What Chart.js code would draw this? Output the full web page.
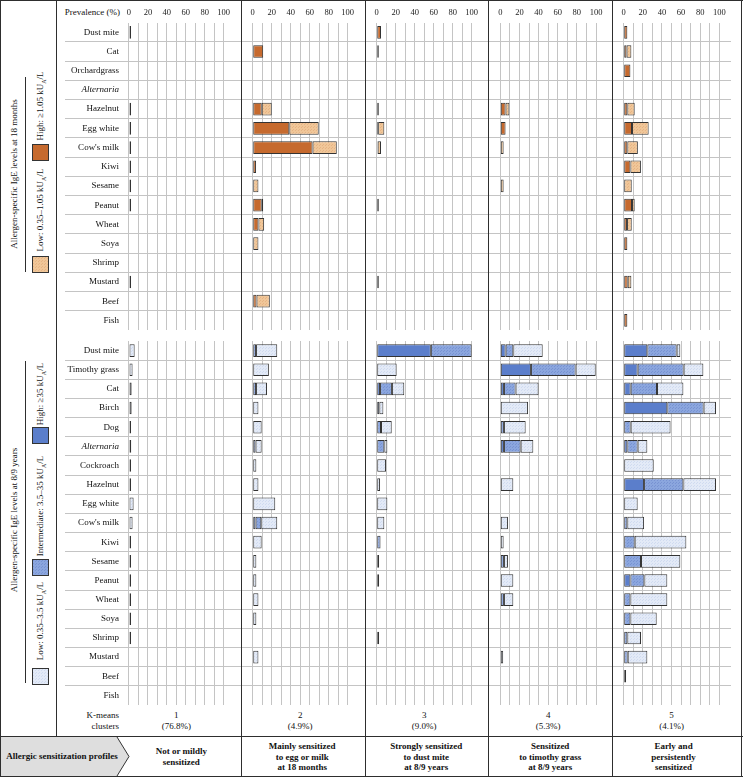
<!DOCTYPE html>
<html>
<head>
<meta charset="utf-8">
<script src="https://cdn.jsdelivr.net/npm/chart.js@4.4.0/dist/chart.umd.min.js"></script>
<style>
  body { margin: 0; background: #fff; }
  #fig { position: relative; width: 743px; height: 778px; overflow: hidden;
         font-family: "Liberation Serif", "DejaVu Serif", serif; color: #111; }
  #fig canvas { position: absolute; }
  .ln { position: absolute; background: #2e2e2e; }
  .t { position: absolute; font-size: 9px; line-height: 10.7px; white-space: nowrap; }
  .c { transform: translateX(-50%); text-align: center; }
  .b { font-weight: bold; }
  .rot { position: absolute; font-size: 9px; white-space: nowrap;
         transform: translate(-50%, -50%) rotate(-90deg); }
  .rot sub { font-size: 6px; line-height: 0; }
  .sw { position: absolute; width: 15px; height: 15px; border: 1px solid #333; }
</style>
</head>
<body>
<div id="fig">
  <div class="ln" style="left:0;top:0;width:743px;height:1px"></div>
  <div class="ln" style="left:0;top:776px;width:743px;height:1px"></div>
  <div class="ln" style="left:0;top:0;width:1px;height:777px"></div>
  <div class="ln" style="left:741px;top:0;width:1px;height:777px"></div>
  <div class="ln" style="left:0;top:736px;width:743px;height:1px"></div>
  <div class="ln" style="left:56px;top:0;width:1px;height:736px"></div>
  <div class="ln" style="left:241px;top:0;width:1px;height:777px"></div>
  <div class="ln" style="left:365px;top:0;width:1px;height:777px"></div>
  <div class="ln" style="left:488px;top:0;width:1px;height:777px"></div>
  <div class="ln" style="left:612px;top:0;width:1px;height:777px"></div>
  <div class="ln" style="left:25px;top:77px;width:1px;height:195px"></div>
  <div class="ln" style="left:25px;top:361px;width:1px;height:322px"></div>

  <!-- left column: legends -->
  <div class="rot" style="left:14px;top:174px">Allergen-specific IgE levels at 18 months</div>
  <div class="rot" style="left:40px;top:106px">High: ≥1.05 kU<sub>A</sub>/L</div>
  <div class="sw" id="swOH" style="left:32px;top:144px"></div>
  <div class="rot" style="left:40px;top:210px">Low: 0.35–1.05 kU<sub>A</sub>/L</div>
  <div class="sw" id="swOL" style="left:32px;top:256px"></div>

  <div class="rot" style="left:14px;top:520px">Allergen-specific IgE levels at 8/9 years</div>
  <div class="rot" style="left:40px;top:394px">High: ≥35 kU<sub>A</sub>/L</div>
  <div class="sw" id="swBH" style="left:32px;top:427px"></div>
  <div class="rot" style="left:40px;top:506px">Intermediate: 3.5–35 kU<sub>A</sub>/L</div>
  <div class="sw" id="swBI" style="left:32px;top:559px"></div>
  <div class="rot" style="left:40px;top:621px">Low: 0.35–3.5 kU<sub>A</sub>/L</div>
  <div class="sw" id="swBL" style="left:32px;top:668px"></div>

  <div class="t" style="left:0;width:120px;top:7px;text-align:right">Prevalence (%)</div>
  <div class="t" style="left:0;width:119px;top:710px;text-align:right">K-means<br>clusters</div>

  <svg style="position:absolute;left:1px;top:737px" width="135" height="39">
    <polygon points="0,0 116,0 128,19.5 116,39 0,39" fill="#dedede"></polygon>
    <polyline points="116,0 128,19.5 116,39" fill="none" stroke="#333" stroke-width="1"></polyline>
  </svg>
  <div class="t b c" style="left:62px;top:751px">Allergic sensitization profiles</div>
</div>

<script>
// allergens, in the order of the rows
const topAllergens = ['Dust mite', 'Cat', 'Orchardgrass', 'Alternaria', 'Hazelnut', 'Egg white', "Cow's milk",
    'Kiwi', 'Sesame', 'Peanut', 'Wheat', 'Soya', 'Shrimp', 'Mustard', 'Beef', 'Fish'];
const bottomAllergens = ['Dust mite', 'Timothy grass', 'Cat', 'Birch', 'Dog', 'Alternaria', 'Cockroach', 'Hazelnut',
    'Egg white', "Cow's milk", 'Kiwi', 'Sesame', 'Peanut', 'Wheat', 'Soya', 'Shrimp', 'Mustard', 'Beef', 'Fish'];

const clusterNumbers = ['1', '2', '3', '4', '5'];
const clusterShares = ['(76.8%)', '(4.9%)', '(9.0%)', '(5.3%)', '(4.1%)'];
const profileNames = [
    ['Not or mildly', 'sensitized'],
    ['Mainly sensitized', 'to egg or milk', 'at 18 months'],
    ['Strongly sensitized', 'to dust mite', 'at 8/9 years'],
    ['Sensitized', 'to timothy grass', 'at 8/9 years'],
    ['Early and', 'persistently', 'sensitized']
];
const prevalenceTicks = [0, 10, 20, 30, 40, 50, 60, 70, 80, 90, 100];

// prevalence (%) at 18 months, one row per cluster
const high18 = [
    [0, 0, 0, 0, 0, 0, 0, 0, 0, 0, 0, 0, 0, 0, 0, 0],
    [0, 11, 0, 0, 9.5, 38.5, 63, 3.5, 0, 9.5, 6, 0, 0, 0, 4, 0],
    [4.5, 0, 0, 0, 0, 1.5, 1, 0, 0, 0, 0, 0, 0, 0, 0, 0],
    [0, 0, 0, 0, 5.5, 5.5, 0, 0, 0, 0, 0, 0, 0, 0, 0, 0],
    [3.8, 3, 7, 0, 3.8, 8.7, 3.8, 7, 0, 8.7, 3.5, 3.8, 0, 4.2, 0, 3.8]
];
const low18 = [
    [2.2, 0, 0, 0, 2.2, 2.2, 2.2, 2.2, 2.2, 2.2, 0, 0, 0, 2.2, 0, 0],
    [0, 0, 0, 0, 10.5, 31, 25.5, 0, 6, 1.5, 6, 6, 0, 0, 14, 0],
    [0, 2.2, 0, 0, 2.2, 6.5, 3.5, 0, 0, 2.2, 0, 0, 0, 2.2, 0, 0],
    [0, 0, 0, 0, 4, 0, 3.5, 0, 3.5, 0, 0, 0, 0, 0, 0, 0],
    [0, 5, 0, 0, 7.7, 17.4, 11, 11, 8.4, 2.8, 4.9, 0, 0, 3.8, 0, 0]
];

// prevalence (%) at 8/9 years, one row per cluster
const high89 = [
    [0, 0, 0, 0, 0, 0, 0, 0, 0, 0, 0, 0, 0, 0, 0, 0, 0, 0, 0],
    [0, 0, 0, 0, 0, 0, 0, 0, 0, 3, 0, 0, 0, 0, 0, 0, 0, 0, 0],
    [57, 0, 3.5, 0, 0, 0, 0, 0, 0, 0, 0, 0, 0, 0, 0, 0, 0, 0, 0],
    [5.6, 32, 3.8, 0, 0, 3.8, 0, 0, 0, 0, 0, 0, 0, 0, 0, 0, 0, 0, 0],
    [24.7, 14.6, 7.3, 45.6, 0, 3.8, 0, 21.3, 0, 0, 0, 0, 7, 0, 0, 0, 0, 0, 0]
];
const inter89 = [
    [0, 0, 0, 0, 0, 0, 0, 0, 0, 0, 0, 0, 0, 0, 0, 0, 0, 0, 0],
    [3.5, 0, 3.5, 0, 0, 3, 0, 0, 0, 6, 0, 0, 0, 0, 0, 0, 0, 0, 0],
    [43, 0, 12.5, 2.8, 4.5, 8, 0, 0, 0, 0, 4, 2.5, 2.5, 0, 0, 2.5, 0, 0, 0],
    [8, 46.7, 12.2, 0, 3.8, 17.5, 0, 0, 0, 0, 0, 3.8, 0, 3.8, 0, 0, 0, 0, 0],
    [30.7, 48.1, 27.5, 38, 7.3, 10.8, 0, 41.1, 0, 3.8, 11.5, 18.1, 14.6, 7, 7, 3.8, 4.2, 0, 0]
];
const low89 = [
    [6, 3.8, 2.8, 2.8, 2.2, 2.4, 2.2, 2.2, 4.9, 3.8, 2.2, 2.2, 2.2, 2.2, 2.2, 2.2, 0, 0, 0],
    [22.3, 17, 11.5, 6, 9.4, 6.4, 3.8, 6, 23.7, 16.8, 9.4, 3.8, 3.8, 6, 3.8, 0, 6, 0, 0],
    [0, 21, 13, 4.2, 11.3, 3.2, 9.8, 3.5, 11.2, 8, 0, 0, 0, 0, 0, 0, 0, 0, 0],
    [30.7, 21, 24, 29, 22.7, 13.2, 0, 13.6, 0, 8, 3.5, 4.2, 13.6, 9.8, 0, 0, 3, 0, 0],
    [3.8, 20.6, 27.6, 12.9, 41.7, 10.1, 31.4, 34.1, 14.6, 17.5, 54, 41.1, 24, 38.6, 27.5, 14.3, 20.5, 2.5, 0]
];

const fig = document.getElementById('fig');
const serif = '"Liberation Serif", "DejaVu Serif", serif';
const gridColor = '#c4c4c4';
const edgeColor = '#333333';

// each panel: canvas placement and axis range so that 0..100 lands on the printed scale
const panels = [
    { left: 57, width: 184, axisW: 68, min: -4.2, max: 118.3 },
    { left: 242, width: 123, axisW: 0, min: -11.3, max: 118.2 },
    { left: 366, width: 122, axisW: 0, min: -11.3, max: 117.2 },
    { left: 489, width: 123, axisW: 0, min: -11.8, max: 116.7 },
    { left: 613, width: 118, axisW: 0, min: -11.2, max: 112.2 }
];

function tile(base, dot) {
    const c = document.createElement('canvas');
    c.width = 3; c.height = 3;
    const g = c.getContext('2d');
    g.fillStyle = base;
    g.fillRect(0, 0, 3, 3);
    if (dot) {
        g.fillStyle = dot;
        g.fillRect(0, 0, 1, 1);
        g.fillRect(2, 1, 1, 1);
    }
    return c;
}

const tiles = {
    orangeHigh: tile('#c66a2e'),
    orangeLow: tile('#f0c698', '#e6b384'),
    blueHigh: tile('#5b7ecb'),
    blueInter: tile('#8ba6de', '#7893d2'),
    blueLow: tile('#e3eaf7', '#d0dbf0')
};
const patCtx = document.createElement('canvas').getContext('2d');
const fills = {};
Object.keys(tiles).forEach(k => { fills[k] = patCtx.createPattern(tiles[k], 'repeat'); });

[['swOH', 'orangeHigh'], ['swOL', 'orangeLow'], ['swBH', 'blueHigh'], ['swBI', 'blueInter'], ['swBL', 'blueLow']]
    .forEach(([id, k]) => { document.getElementById(id).style.backgroundImage = 'url(' + tiles[k].toDataURL() + ')'; });

function addCanvas(left, top, width, height) {
    const cv = document.createElement('canvas');
    cv.width = width;
    cv.height = height;
    cv.style.left = left + 'px';
    cv.style.top = top + 'px';
    cv.style.width = width + 'px';
    cv.style.height = height + 'px';
    fig.appendChild(cv);
    return cv;
}

function drawPanel(i, isTop) {
    const p = panels[i];
    const labels = isTop ? topAllergens : bottomAllergens;
    const datasets = isTop
        ? [
            { label: 'High', data: high18[i], backgroundColor: fills.orangeHigh },
            { label: 'Low', data: low18[i], backgroundColor: fills.orangeLow }
        ]
        : [
            { label: 'High', data: high89[i], backgroundColor: fills.blueHigh },
            { label: 'Intermediate', data: inter89[i], backgroundColor: fills.blueInter },
            { label: 'Low', data: low89[i], backgroundColor: fills.blueLow }
        ];
    datasets.forEach(d => Object.assign(d, {
        borderColor: edgeColor, borderWidth: 1, borderSkipped: false,
        barPercentage: 0.66, categoryPercentage: 1
    }));
    const showLabels = i === 0;

    return new Chart(addCanvas(p.left, isTop ? 0 : 341, p.width, isTop ? 330 : 364), {
        type: 'bar',
        data: { labels: labels, datasets: datasets },
        options: {
            indexAxis: 'y',
            responsive: false,
            animation: false,
            events: [],
            layout: { padding: 0 },
            plugins: { legend: { display: false }, tooltip: { enabled: false } },
            scales: {
                x: {
                    position: 'top',
                    stacked: true,
                    min: p.min,
                    max: p.max,
                    bounds: 'data',
                    afterBuildTicks: s => { s.ticks = prevalenceTicks.map(v => ({ value: v })); },
                    afterFit: s => { s.height = isTop ? 22.7 : 0; },
                    grid: { color: gridColor, drawTicks: false },
                    border: { display: false },
                    ticks: {
                        display: isTop,
                        autoSkip: false,
                        maxRotation: 0,
                        padding: 5,
                        color: '#222',
                        font: { family: serif, size: 8.5 },
                        callback: v => (v % 20 === 0 ? v : '')
                    }
                },
                y: {
                    stacked: true,
                    afterFit: s => { s.width = p.axisW; },
                    grid: {
                        offset: true,
                        // no line above the first row or below the last one
                        color: c => (c.type === 'tick' && c.index > 0 ? gridColor : 'rgba(0,0,0,0)'),
                        drawTicks: showLabels,
                        tickLength: 60
                    },
                    border: { display: false },
                    ticks: {
                        display: showLabels,
                        autoSkip: false,
                        padding: -54,
                        color: '#111',
                        font: c => ({ family: serif, size: 9, style: labels[c.index] === 'Alternaria' ? 'italic' : 'normal' })
                    }
                }
            }
        }
    });
}

function addText(html, left, top, cls) {
    const d = document.createElement('div');
    d.className = cls;
    d.style.left = left + 'px';
    d.style.top = top + 'px';
    d.innerHTML = html;
    fig.appendChild(d);
}

panels.forEach((p, i) => {
    const chart = drawPanel(i, true);
    drawPanel(i, false);
    const mid = p.left + chart.scales.x.getPixelForValue(50);
    addText(clusterNumbers[i] + '<br>' + clusterShares[i], mid, 710.3, 't c');
    const lines = profileNames[i];
    addText(lines.join('<br>'), mid + (i === 0 ? 5 : 2), lines.length === 3 ? 740.8 : 746.2, 't c b');
});
</script>
</body>
</html>
